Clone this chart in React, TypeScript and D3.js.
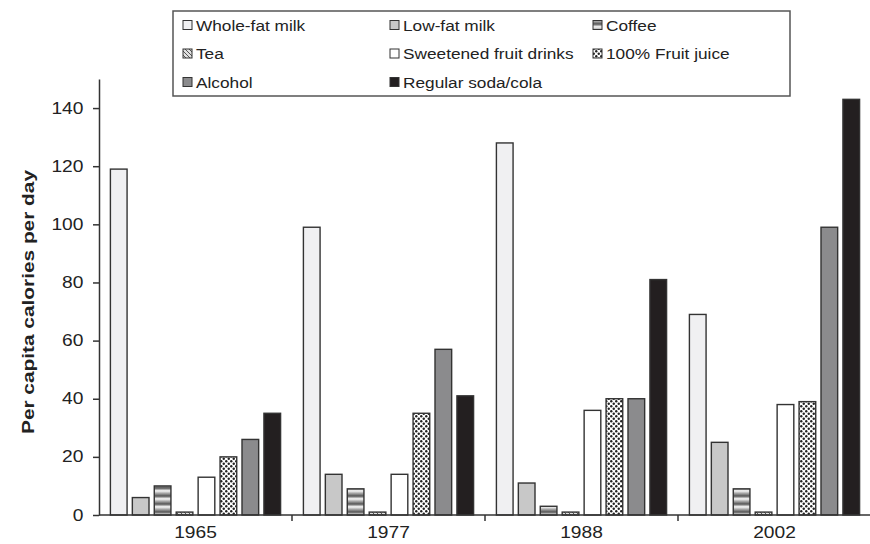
import React, {useEffect, useRef} from 'react';
import * as d3 from 'd3';

const years = ['1965', '1977', '1988', '2002'];
const series = ['Whole-fat milk', 'Low-fat milk', 'Coffee', 'Tea', 'Sweetened fruit drinks', '100% Fruit juice', 'Alcohol', 'Regular soda/cola'];
// one array per beverage, in the order of years
const wholeFatMilk = [119, 99, 128, 69];
const lowFatMilk = [6, 14, 11, 25];
const coffee = [10, 9, 3, 9];
const tea = [1, 1, 1, 1];
const sweetenedDrinks = [13, 14, 36, 38];
const fruitJuice = [20, 35, 40, 39];
const alcohol = [26, 57, 40, 99];
const soda = [35, 41, 81, 143];
const yTicks = [0, 20, 40, 60, 80, 100, 120, 140];

const values = [wholeFatMilk, lowFatMilk, coffee, tea, sweetenedDrinks, fruitJuice, alcohol, soda];
const fills = ['#f0f0f2', '#c8c8c8', 'url(#coffee)', 'url(#tea)', '#ffffff', 'url(#dots)', '#8b8b8d', '#231f20'];

const App: React.FC = () => {
    const svgRef = useRef<SVGSVGElement | null>(null);

    useEffect(() => {
        const width = 870;
        const height = 544;
        const margin = {top: 79, right: -1, bottom: 29, left: 99};
        const font = 'Liberation Sans, Arial, sans-serif';
        const stretch = 1.2; // the source glyphs are a bit wide

        const svg = d3.select(svgRef.current).attr('width', width).attr('height', height);
        svg.selectAll('*').remove();

        // patterns
        const defs = svg.append('defs');
        const grad = defs.append('linearGradient').attr('id', 'coffeeGrad').attr('x1', 0).attr('y1', 0).attr('x2', 0).attr('y2', 1);
        [['0%', '#555'], ['35%', '#fafafa'], ['65%', '#aaa'], ['100%', '#555']].forEach(([o, c]) =>
            grad.append('stop').attr('offset', o).attr('stop-color', c));
        const cof = defs.append('pattern').attr('id', 'coffee').attr('patternUnits', 'userSpaceOnUse').attr('width', 8).attr('height', 8);
        cof.append('rect').attr('width', 8).attr('height', 8).attr('fill', 'url(#coffeeGrad)');

        const teaP = defs.append('pattern').attr('id', 'tea').attr('patternUnits', 'userSpaceOnUse').attr('width', 4).attr('height', 4);
        teaP.append('rect').attr('width', 4).attr('height', 4).attr('fill', '#e0e0e0');
        teaP.append('path').attr('d', 'M0,0 L4,4 M-1,3 L1,5 M3,-1 L5,1').attr('stroke', '#555').attr('stroke-width', 1);

        const dots = defs.append('pattern').attr('id', 'dots').attr('patternUnits', 'userSpaceOnUse').attr('width', 5).attr('height', 5);
        dots.append('rect').attr('width', 5).attr('height', 5).attr('fill', '#fff');
        dots.append('circle').attr('cx', 1.25).attr('cy', 1.25).attr('r', 1.2).attr('fill', '#222');
        dots.append('circle').attr('cx', 3.75).attr('cy', 3.75).attr('r', 1.2).attr('fill', '#222');

        const x0 = d3.scaleBand().domain(years).range([margin.left, width - margin.right]);
        const x1 = d3.scaleBand().domain(series).range([0, x0.bandwidth()]).paddingInner(0.24).paddingOuter(0.52);
        const y = d3.scaleLinear().domain([0, 150]).range([height - margin.bottom, margin.top]);

        // bars
        series.forEach((s, i) => {
            svg.append('g')
                .selectAll('rect')
                .data(values[i])
                .enter()
                .append('rect')
                .attr('x', (d, j) => x0(years[j])! + x1(s)!)
                .attr('y', (d) => y(d))
                .attr('width', x1.bandwidth())
                .attr('height', (d) => y(0) - y(d))
                .attr('fill', fills[i])
                .attr('stroke', '#333')
                .attr('stroke-width', 1.4);
        });

        // y axis
        const yAxis = svg.append('g')
            .attr('transform', `translate(${margin.left},0)`)
            .call(d3.axisLeft(y).tickValues(yTicks).tickSize(6).tickSizeOuter(0).tickPadding(7));
        yAxis.select('.domain').attr('stroke', '#333').attr('stroke-width', 1.5);
        yAxis.selectAll('.tick line').attr('stroke', '#333').attr('stroke-width', 1.5);
        yAxis.selectAll('.tick text').attr('font-family', font).attr('font-size', 16).attr('fill', '#222')
            .attr('transform', `scale(${stretch},1)`);

        // x axis
        const xAxis = svg.append('g').attr('transform', `translate(0,${y(0)})`);
        xAxis.append('line').attr('x1', margin.left).attr('x2', width).attr('stroke', '#333').attr('stroke-width', 1.5);
        xAxis.selectAll('line.tk')
            .data(years.slice(1))
            .enter()
            .append('line')
            .attr('class', 'tk')
            .attr('x1', (d) => x0(d)!).attr('x2', (d) => x0(d)!)
            .attr('y1', 0).attr('y2', 6)
            .attr('stroke', '#333').attr('stroke-width', 1.5);
        xAxis.selectAll('text')
            .data(years)
            .enter()
            .append('text')
            .attr('transform', (d) => `translate(${x0(d)! + x0.bandwidth() / 2},23) scale(${stretch},1)`)
            .attr('text-anchor', 'middle')
            .attr('font-family', font).attr('font-size', 16).attr('fill', '#222')
            .text((d) => d);

        // y title
        svg.append('text')
            .attr('transform', `translate(34,${(y(0) + margin.top) / 2 + 5}) rotate(-90)`)
            .attr('text-anchor', 'middle')
            .attr('textLength', 264).attr('lengthAdjust', 'spacingAndGlyphs')
            .attr('font-family', font).attr('font-size', 16.5).attr('font-weight', 'bold').attr('fill', '#222')
            .text('Per capita calories per day');

        // legend
        const lg = svg.append('g');
        lg.append('rect').attr('x', 173).attr('y', 11).attr('width', 617).attr('height', 85)
            .attr('fill', '#fff').attr('stroke', '#555').attr('stroke-width', 1.5);
        const colX = [183, 390, 593];
        series.forEach((s, i) => {
            const cx = colX[i % 3];
            const cy = 25 + Math.floor(i / 3) * 28.5;
            lg.append('rect').attr('x', cx).attr('y', cy - 4.5).attr('width', 9).attr('height', 9)
                .attr('fill', fills[i]).attr('stroke', '#333').attr('stroke-width', 1);
            lg.append('text')
                .attr('transform', `translate(${cx + 13},${cy + 5.5}) scale(1.15,1)`)
                .attr('font-family', font).attr('font-size', 15).attr('fill', '#222')
                .text(s);
        });
    }, []);

    return <svg ref={svgRef} style={{position: 'absolute', left: 0, top: 0}}></svg>;
};

export default App;
